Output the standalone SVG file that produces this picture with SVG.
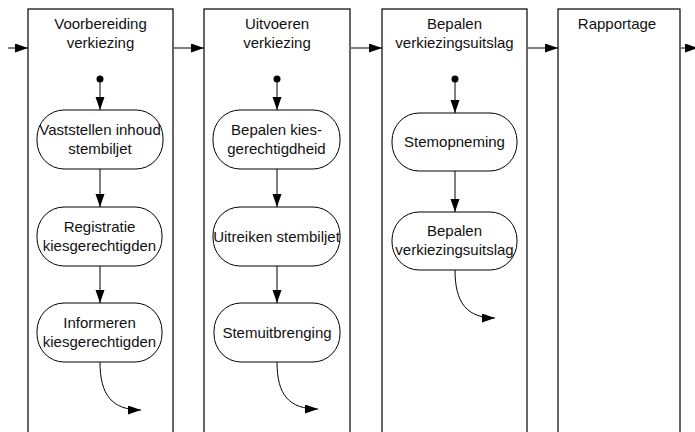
<svg xmlns="http://www.w3.org/2000/svg" width="695" height="432" viewBox="0 0 695 432">
<defs>
<marker id="ah" markerUnits="userSpaceOnUse" markerWidth="14" markerHeight="10" refX="13" refY="4.5" orient="auto">
<path d="M0,0 L13,4.5 L0,9 z" fill="#000"/>
</marker>
<style>
.lane{fill:#fff;stroke:#000;stroke-width:1.2}
.box{fill:#fff;stroke:#000;stroke-width:1}
.t{font-family:"Liberation Sans",Arial,sans-serif;font-size:15px;fill:#111;text-anchor:middle}
.c{fill:none;stroke:#000;stroke-width:1;marker-end:url(#ah)}
.dot{fill:#000}
</style>
</defs>
<rect width="695" height="432" fill="#fff"/>
<g id="lane1">
<rect class="lane" x="28" y="9" width="145" height="430"/>
<text class="t" x="100.5" y="29">Voorbereiding</text>
<text class="t" x="100.5" y="48">verkiezing</text>
</g>
<g id="lane2">
<rect class="lane" x="204" y="9" width="146" height="430"/>
<text class="t" x="277" y="29">Uitvoeren</text>
<text class="t" x="277" y="48">verkiezing</text>
</g>
<g id="lane3">
<rect class="lane" x="382" y="9" width="145" height="430"/>
<text class="t" x="454.5" y="29">Bepalen</text>
<text class="t" x="454.5" y="48">verkiezingsuitslag</text>
</g>
<g id="lane4">
<rect class="lane" x="558" y="9" width="122" height="430"/>
<text class="t" x="617" y="29">Rapportage</text>
</g>
<g id="start1"><circle class="dot" cx="100" cy="79" r="3.5"/></g>
<g id="start2"><circle class="dot" cx="277" cy="79" r="3.5"/></g>
<g id="start3"><circle class="dot" cx="455" cy="79" r="3.5"/></g>
<g id="n1">
<rect class="box" x="37" y="110" width="126" height="59" rx="27" ry="28"/>
<text class="t" x="100" y="135">Vaststellen inhoud</text>
<text class="t" x="100" y="154">stembiljet</text>
</g>
<g id="n2">
<rect class="box" x="37" y="207" width="125" height="59" rx="27" ry="28"/>
<text class="t" x="99.5" y="232">Registratie</text>
<text class="t" x="99.5" y="251">kiesgerechtigden</text>
</g>
<g id="n3">
<rect class="box" x="37" y="303" width="125" height="59" rx="27" ry="28"/>
<text class="t" x="99.5" y="328">Informeren</text>
<text class="t" x="99.5" y="347">kiesgerechtigden</text>
</g>
<g id="n4">
<rect class="box" x="213" y="110" width="127" height="59" rx="27" ry="28"/>
<text class="t" x="276.5" y="135">Bepalen kies-</text>
<text class="t" x="276.5" y="154">gerechtigdheid</text>
</g>
<g id="n5">
<rect class="box" x="213" y="207" width="127" height="59" rx="27" ry="28"/>
<text class="t" x="276.5" y="242">Uitreiken stembiljet</text>
</g>
<g id="n6">
<rect class="box" x="214" y="303" width="126" height="59" rx="27" ry="28"/>
<text class="t" x="277" y="338">Stemuitbrenging</text>
</g>
<g id="n7">
<rect class="box" x="392" y="113" width="125" height="58" rx="27" ry="28"/>
<text class="t" x="454.5" y="147">Stemopneming</text>
</g>
<g id="n8">
<rect class="box" x="392" y="212" width="125" height="58" rx="27" ry="28"/>
<text class="t" x="454.5" y="236">Bepalen</text>
<text class="t" x="454.5" y="255">verkiezingsuitslag</text>
</g>
<g id="connectors">
<path class="c" d="M8,48 L28,48"/>
<path class="c" d="M174,48 L204,48"/>
<path class="c" d="M351,48 L382,48"/>
<path class="c" d="M528,48 L558,48"/>
<path class="c" d="M681,48 L698,48"/>
<path class="c" d="M100,82 L100,110"/>
<path class="c" d="M100,169 L100,207"/>
<path class="c" d="M100,266 L100,303"/>
<path class="c" d="M100,362 C100,395 112,410 141,410"/>
<path class="c" d="M277,82 L277,110"/>
<path class="c" d="M277,169 L277,207"/>
<path class="c" d="M277,266 L277,303"/>
<path class="c" d="M277,362 C277,395 289,409 318,409"/>
<path class="c" d="M455,82 L455,113"/>
<path class="c" d="M455,171 L455,212"/>
<path class="c" d="M455,270 C455,303 467,318 495,318"/>
</g>
</svg>
